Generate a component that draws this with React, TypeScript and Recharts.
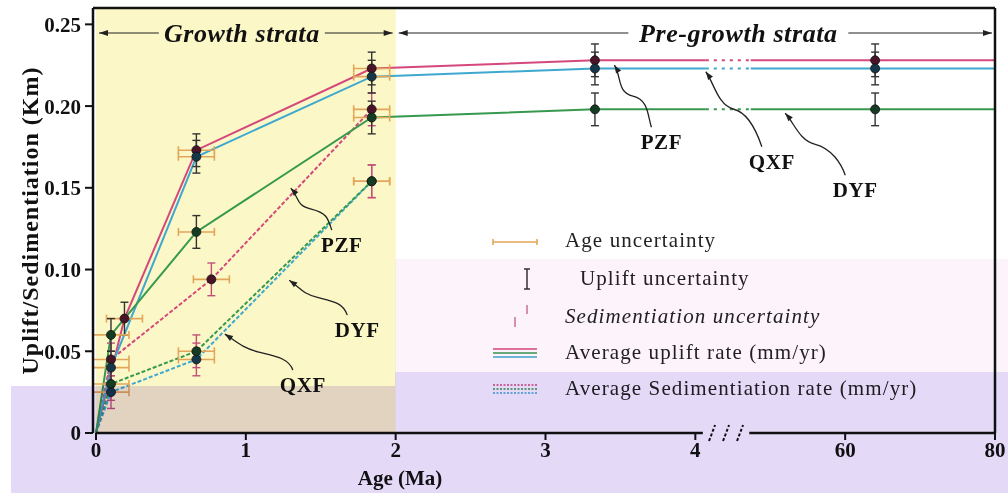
import React from "react";
import {
  ComposedChart,
  Line,
  Scatter,
  XAxis,
  YAxis,
  ErrorBar,
  ReferenceArea,
  ReferenceLine,
  ReferenceDot,
} from "recharts";

const SERIF = '"Liberation Serif", "Times New Roman", serif';

// x axis: 0-4 Ma linear, a break, then 60-80 Ma squeezed into one unit
const X_TICKS = [0, 1, 2, 3, 4, 5, 6];
const X_TICK_LABELS = ["0", "1", "2", "3", "4", "60", "80"];
const Y_TICKS = [0, 0.05, 0.1, 0.15, 0.2, 0.25];
const Y_MAX = 0.26;
const BREAK_FROM = 4.07;
const BREAK_TO = 4.37;
const toPos = (age: number) => (age <= 4 ? age : 5 + (age - 60) / 20);

// uplift (km)
const PZF_UPLIFT_AGES = [0, 0.19, 0.67, 1.84, 3.33, 64, 80];
const PZF_UPLIFT = [0, 0.07, 0.173, 0.223, 0.228, 0.228, 0.228];
const UPLIFT_AGES = [0, 0.1, 0.67, 1.84, 3.33, 64, 80];
const QXF_UPLIFT = [0, 0.04, 0.169, 0.218, 0.223, 0.223, 0.223];
const DYF_UPLIFT = [0, 0.06, 0.123, 0.193, 0.198, 0.198, 0.198];

// sedimentation (km)
const PZF_SED_AGES = [0, 0.1, 0.77, 1.84];
const PZF_SED = [0, 0.045, 0.094, 0.198];
const SED_AGES = [0, 0.1, 0.67, 1.84];
const QXF_SED = [0, 0.025, 0.045, 0.154];
const DYF_SED = [0, 0.03, 0.05, 0.154];

const AGE_ERR = 0.12;
const UPLIFT_ERR = 0.01;
const SED_ERR = 0.01;

const COLOR = { PZF: "#d4487c", QXF: "#3fa8d0", DYF: "#36994e" };
const DOT = { PZF: "#4a1428", QXF: "#14384a", DYF: "#143c22" };
const AGE_ERR_COLOR = "#e2a65a";
const UP_ERR_COLOR = "#333";
const SED_ERR_COLOR = "#c0507a";

// annotation arrows: tip in axis units, label offset in px
const NOTES = [
  { label: "PZF", x: 1.3, y: 0.1498, dx: 51, dy: 57 },
  { label: "DYF", x: 1.29, y: 0.0935, dx: 68, dy: 50 },
  { label: "QXF", x: 0.86, y: 0.0605, dx: 78, dy: 51 },
  { label: "PZF", x: 3.46, y: 0.225, dx: 47, dy: 77 },
  { label: "QXF", x: 4.07, y: 0.221, dx: 66, dy: 90 },
  { label: "DYF", x: 4.6, y: 0.1956, dx: 70, dy: 77 },
];

type Pt = { x: number; y: number; ex?: number; ey?: number };

const mkPts = (ages: number[], vals: number[]): Pt[] =>
  ages.map((a, i) => ({ x: toPos(a), y: vals[i] }));

function splitAtBreak(pts: Pt[]) {
  const i = pts.findIndex((p) => p.x > BREAK_FROM);
  const level = pts[i].y;
  return {
    before: [...pts.slice(0, i), { x: BREAK_FROM, y: level }],
    gap: [{ x: BREAK_FROM, y: level }, { x: BREAK_TO, y: level }],
    after: [{ x: BREAK_TO, y: level }, ...pts.slice(i)],
  };
}

const uplift = [
  { key: "PZF", pts: mkPts(PZF_UPLIFT_AGES, PZF_UPLIFT) },
  { key: "QXF", pts: mkPts(UPLIFT_AGES, QXF_UPLIFT) },
  { key: "DYF", pts: mkPts(UPLIFT_AGES, DYF_UPLIFT) },
] as const;

const sed = [
  { key: "PZF", pts: mkPts(PZF_SED_AGES, PZF_SED) },
  { key: "QXF", pts: mkPts(SED_AGES, QXF_SED) },
  { key: "DYF", pts: mkPts(SED_AGES, DYF_SED) },
] as const;

const dotShape = (fill: string) => (p: any) => (
  <circle cx={p.cx} cy={p.cy} r={4.5} fill={fill} stroke="#111" strokeWidth={0.8} />
);

const arrowShape = (label: string, dx: number, dy: number) => (p: any) => {
  const tx = p.cx;
  const ty = p.cy;
  const lx = tx + dx;
  const ly = ty + dy;
  const sx = lx - 10;
  const sy = ly - 15;
  const mx = (sx + tx) / 2;
  const my = (sy + ty) / 2;
  const len = Math.hypot(dx, dy);
  const ux = dx / len;
  const uy = dy / len;
  const d = `M ${sx} ${sy} C ${sx - 4} ${sy - 12}, ${mx + 16} ${my + 4}, ${mx} ${my} S ${tx + ux * 14} ${ty + uy * 14}, ${tx} ${ty}`;
  const bx = tx + ux * 8;
  const by = ty + uy * 8;
  const head = `M ${tx} ${ty} L ${bx - uy * 3} ${by + ux * 3} L ${bx + uy * 3} ${by - ux * 3} Z`;
  return (
    <g>
      <path d={d} fill="none" stroke="#222" strokeWidth={1.3} />
      <path d={head} fill="#222" />
      <text x={lx} y={ly} textAnchor="middle" dominantBaseline="central" fontFamily={SERIF} fontWeight="bold" fontSize={21} letterSpacing={0.6} fill="#111">
        {label}
      </text>
    </g>
  );
};

const stratumShape = (label: string, fill: string, shift: number, half: number) => (p: any) => {
  const { x, y, width, height } = p;
  const cy = y + 25;
  const cx = x + width / 2 + shift;
  return (
    <g>
      <rect x={x} y={y} width={width} height={height} fill={fill} />
      <line x1={x + 3} y1={cy} x2={cx - half} y2={cy} stroke="#222" strokeWidth={1.2} />
      <line x1={cx + half} y1={cy} x2={x + width - 3} y2={cy} stroke="#222" strokeWidth={1.2} />
      <path d={`M ${x + 3} ${cy} l 9 -3 l 0 6 Z`} fill="#222" />
      <path d={`M ${x + width - 3} ${cy} l -9 -3 l 0 6 Z`} fill="#222" />
      <text x={cx} y={cy} textAnchor="middle" dominantBaseline="central" fontFamily={SERIF} fontWeight="bold" fontStyle="italic" fontSize={26} letterSpacing={0.6} fill="#111">
        {label}
      </text>
    </g>
  );
};

const breakShape = (p: any) => (
  <g stroke="#111" strokeWidth={2} strokeDasharray="3 2">
    {[-14, 0, 14].map((o) => (
      <line key={o} x1={p.cx + o - 3} y1={p.cy + 8} x2={p.cx + o + 3} y2={p.cy - 8} />
    ))}
  </g>
);

function LegendRow({ top, swatch, text, left = 565, italic = false }: any) {
  return (
    <div style={{ position: "absolute", top, left: 490, height: 30, width: 510 }}>
      <svg width={60} height={30} style={{ position: "absolute", left: 0, top: 0 }}>
        {swatch}
      </svg>
      <span
        style={{
          position: "absolute",
          left: left - 490,
          top: 2,
          fontFamily: SERIF,
          fontSize: 21,
          letterSpacing: 1.1,
          fontStyle: italic ? "italic" : "normal",
          color: "#222",
          whiteSpace: "nowrap",
        }}
      >
        {text}
      </span>
    </div>
  );
}

export default function App() {
  const tickStyle = { fontFamily: SERIF, fontWeight: "bold", fontSize: 21, fill: "#111" };
  return (
    <div style={{ position: "absolute", left: 0, top: 0, width: 1008, height: 493, background: "#fff" }}>
      <ComposedChart width={1008} height={493} margin={{ top: 8, right: 13, left: 23, bottom: 5 }}>
        <XAxis
          dataKey="x"
          type="number"
          domain={[0, 6]}
          ticks={X_TICKS}
          tickFormatter={(v: number) => X_TICK_LABELS[X_TICKS.indexOf(v)] ?? ""}
          axisLine={false}
          tickSize={7}
          tickLine={{ stroke: "#111", strokeWidth: 2 }}
          tick={tickStyle}
          height={55}
          allowDuplicatedCategory={false}
          label={{
            content: (lp: any) => (
              <text x={lp.viewBox.x + 307} y={lp.viewBox.y + 45} textAnchor="middle" dominantBaseline="central" fontFamily={SERIF} fontWeight="bold" fontSize={21} fill="#111">
                Age (Ma)
              </text>
            ),
          }}
        />
        <YAxis
          type="number"
          domain={[0, Y_MAX]}
          ticks={Y_TICKS}
          tickFormatter={(v: number) => (v === 0 ? "0" : v.toFixed(2))}
          width={70}
          axisLine={{ stroke: "#111", strokeWidth: 2.5 }}
          tickSize={8}
          tickMargin={4}
          tickLine={{ stroke: "#111", strokeWidth: 2 }}
          tick={tickStyle}
          label={{
            value: "Uplift/Sedimentiation (Km)",
            angle: -90,
            position: "insideLeft",
            offset: 0,
            dx: 6,
            style: { textAnchor: "middle", fontFamily: SERIF, fontWeight: "bold", fontSize: 24, letterSpacing: 1, fill: "#111" },
          }}
        />

        <ReferenceArea x1={0} x2={2} y1={0} y2={Y_MAX} shape={stratumShape("Growth strata", "#fcf7c6", -4, 83)} />
        <ReferenceArea x1={2} x2={6} y1={0} y2={Y_MAX} shape={stratumShape("Pre-growth strata", "none", 43, 110)} />

        {sed.map((s) => (
          <Line
            key={"sed" + s.key}
            data={s.pts}
            dataKey="y"
            stroke={COLOR[s.key]}
            strokeWidth={2}
            strokeDasharray="4 2"
            dot={false}
            isAnimationActive={false}
          />
        ))}
        {uplift.map((s) => {
          const parts = splitAtBreak(s.pts);
          return [
            <Line key={"upb" + s.key} data={parts.before} dataKey="y" stroke={COLOR[s.key]} strokeWidth={2} dot={false} isAnimationActive={false} />,
            <Line key={"upg" + s.key} data={parts.gap} dataKey="y" stroke={COLOR[s.key]} strokeWidth={2} strokeDasharray="3 5" dot={false} isAnimationActive={false} />,
            <Line key={"upa" + s.key} data={parts.after} dataKey="y" stroke={COLOR[s.key]} strokeWidth={2} dot={false} isAnimationActive={false} />,
          ];
        })}

        {sed.map((s) => (
          <Scatter
            key={"sdot" + s.key}
            data={s.pts.filter((p) => p.x > 0).map((p) => ({ ...p, ex: AGE_ERR, ey: SED_ERR }))}
            dataKey="y"
            shape={dotShape(DOT[s.key])}
            isAnimationActive={false}
          >
            <ErrorBar dataKey="ex" direction="x" stroke={AGE_ERR_COLOR} strokeWidth={1.6} width={4} />
            <ErrorBar dataKey="ey" direction="y" stroke={SED_ERR_COLOR} strokeWidth={1.4} width={4} />
          </Scatter>
        ))}
        {uplift.map((s) => (
          <Scatter
            key={"udot" + s.key}
            data={s.pts.filter((p) => p.x > 0 && p.x < 3).map((p) => ({ ...p, ex: AGE_ERR, ey: UPLIFT_ERR }))}
            dataKey="y"
            shape={dotShape(DOT[s.key])}
            isAnimationActive={false}
          >
            <ErrorBar dataKey="ex" direction="x" stroke={AGE_ERR_COLOR} strokeWidth={1.6} width={4} />
            <ErrorBar dataKey="ey" direction="y" stroke={UP_ERR_COLOR} strokeWidth={1.4} width={4} />
          </Scatter>
        ))}
        {uplift.map((s) => (
          <Scatter
            key={"pdot" + s.key}
            data={s.pts.filter((p) => p.x >= 3 && p.x < 6).map((p) => ({ ...p, ey: UPLIFT_ERR }))}
            dataKey="y"
            shape={dotShape(DOT[s.key])}
            isAnimationActive={false}
          >
            <ErrorBar dataKey="ey" direction="y" stroke={UP_ERR_COLOR} strokeWidth={1.4} width={4} />
          </Scatter>
        ))}

        {NOTES.map((n, i) => (
          <ReferenceDot key={"note" + i} x={n.x} y={n.y} r={0} ifOverflow="visible" shape={arrowShape(n.label, n.dx, n.dy)} />
        ))}

        <ReferenceLine y={Y_MAX} stroke="#111" strokeWidth={2.5} />
        <ReferenceLine x={6} stroke="#111" strokeWidth={2.5} />
        <ReferenceLine segment={[{ x: 0, y: 0 }, { x: 4.05, y: 0 }]} stroke="#111" strokeWidth={2.5} ifOverflow="visible" />
        <ReferenceLine segment={[{ x: 4.36, y: 0 }, { x: 6, y: 0 }]} stroke="#111" strokeWidth={2.5} ifOverflow="visible" />
        <ReferenceDot x={4.205} y={0} r={0} ifOverflow="visible" shape={breakShape} />
      </ComposedChart>

      <LegendRow
        top={226}
        text="Age  uncertainty"
        swatch={
          <g stroke={AGE_ERR_COLOR} strokeWidth={1.6}>
            <line x1={3} y1={16} x2={47} y2={16} />
            <line x1={3} y1={13} x2={3} y2={19} />
            <line x1={47} y1={13} x2={47} y2={19} />
          </g>
        }
      />
      <LegendRow
        top={264}
        left={580}
        text="Uplift  uncertainty"
        swatch={
          <g stroke="#333" strokeWidth={1.5}>
            <line x1={37} y1={5} x2={37} y2={25} />
            <line x1={34} y1={5} x2={40} y2={5} />
            <line x1={34} y1={25} x2={40} y2={25} />
          </g>
        }
      />
      <LegendRow
        top={302}
        italic
        text="Sedimentiation uncertainty"
        swatch={
          <g stroke={SED_ERR_COLOR} strokeWidth={1.2}>
            <line x1={37} y1={3} x2={37} y2={12} />
            <line x1={25} y1={15} x2={25} y2={25} />
          </g>
        }
      />
      <LegendRow
        top={338}
        text="Average uplift rate (mm/yr)"
        swatch={
          <g strokeWidth={1.6}>
            <line x1={3} y1={11} x2={47} y2={11} stroke={COLOR.PZF} />
            <line x1={3} y1={15} x2={47} y2={15} stroke={COLOR.DYF} />
            <line x1={3} y1={19} x2={47} y2={19} stroke={COLOR.QXF} />
          </g>
        }
      />
      <LegendRow
        top={374}
        text="Average Sedimentiation rate (mm/yr)"
        swatch={
          <g strokeWidth={1.6} strokeDasharray="2 1.5">
            <line x1={3} y1={11} x2={47} y2={11} stroke={COLOR.PZF} />
            <line x1={3} y1={15} x2={47} y2={15} stroke={COLOR.DYF} />
            <line x1={3} y1={19} x2={47} y2={19} stroke={COLOR.QXF} />
          </g>
        }
      />

      {/* tinted bands from the source image */}
      <div style={{ position: "absolute", left: 395, top: 259, width: 613, height: 113, background: "#fcf3fb", mixBlendMode: "multiply", pointerEvents: "none" }} />
      <div style={{ position: "absolute", left: 11, top: 386, width: 384, height: 107, background: "#e4daf8", mixBlendMode: "multiply", pointerEvents: "none" }} />
      <div style={{ position: "absolute", left: 395, top: 372, width: 613, height: 121, background: "#e4daf8", mixBlendMode: "multiply", pointerEvents: "none" }} />
    </div>
  );
}
